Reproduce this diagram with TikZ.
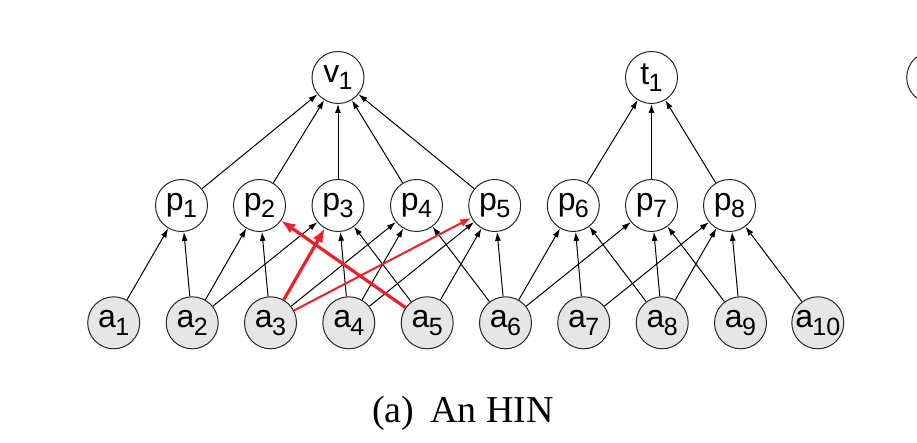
\documentclass[tikz,border=0pt]{standalone}
\usepackage{fontspec}
\setmainfont{Liberation Serif}
\newfontfamily\nodefont{Liberation Sans}
\usetikzlibrary{arrows.meta}
\definecolor{hred}{RGB}{236,32,40}
\definecolor{afill}{RGB}{230,230,230}
\newcommand{\lbl}[2]{{\nodefont\fontsize{16}{16}\selectfont #1\kern-0.3pt\raisebox{-3.8pt}{\fontsize{12.5}{12.5}\selectfont #2}}}
\begin{document}
\begin{tikzpicture}[x=0.5pt,y=-0.5pt,
  vert/.style={circle,draw=black!85,line width=0.5pt,minimum size=26pt,inner sep=0pt},
  anode/.style={vert,fill=afill},
  edge/.style={line width=0.5pt,-{Latex[length=4.5pt,width=3pt]}},
  redthick/.style={hred,line width=1.6pt,-{Latex[length=7pt,width=5.5pt]}},
  redthin/.style={hred,line width=1pt,-{Latex[length=5.5pt,width=4pt]}}]
\useasboundingbox (0,0) rectangle (917,443);
\clip (0,0) rectangle (917,443);
% top
\node[vert] (v1) at (338,77.5) {\lbl{v}{1}};
\node[vert] (t1) at (651.5,77.5) {\lbl{t}{1}};
\node[vert] (x1) at (932.7,77.5) {};
% papers
\node[vert] (p1) at (181.5,205.5) {\lbl{p}{1}};
\node[vert] (p2) at (259.5,205.5) {\lbl{p}{2}};
\node[vert] (p3) at (338,205.5) {\lbl{p}{3}};
\node[vert] (p4) at (416.5,205.5) {\lbl{p}{4}};
\node[vert] (p5) at (494.7,205.5) {\lbl{p}{5}};
\node[vert] (p6) at (573.3,205.5) {\lbl{p}{6}};
\node[vert] (p7) at (651.5,205.5) {\lbl{p}{7}};
\node[vert] (p8) at (729.5,205.5) {\lbl{p}{8}};
% authors
\node[anode] (a1) at (113.7,322.8) {\lbl{a}{1}};
\node[anode] (a2) at (192.2,322.8) {\lbl{a}{2}};
\node[anode] (a3) at (270.5,322.8) {\lbl{a}{3}};
\node[anode] (a4) at (348.8,322.8) {\lbl{a}{4}};
\node[anode] (a5) at (427.2,322.8) {\lbl{a}{5}};
\node[anode] (a6) at (505.5,322.8) {\lbl{a}{6}};
\node[anode] (a7) at (583.7,322.8) {\lbl{a}{7}};
\node[anode] (a8) at (662.2,322.8) {\lbl{a}{8}};
\node[anode] (a9) at (740.5,322.8) {\lbl{a}{9}};
\node[anode] (a10) at (817.8,322.8) {\lbl{a}{10}};
% paper -> venue/term
\foreach \p in {p1,p2,p3,p4,p5} \draw[edge] (\p) -- (v1);
\foreach \p in {p6,p7,p8} \draw[edge] (\p) -- (t1);
% author -> paper
\draw[edge] (a1) -- (p1);
\draw[edge] (a2) -- (p1);
\draw[edge] (a2) -- (p2);
\draw[edge] (a2) -- (p3);
\draw[edge] (a3) -- (p2);
\draw[edge] (a3) -- (p4);
\draw[edge] (a4) -- (p3);
\draw[edge] (a4) -- (p4);
\draw[edge] (a4) -- (p5);
\draw[edge] (a5) -- (p3);
\draw[edge] (a5) -- (p5);
\draw[edge] (a6) -- (p4);
\draw[edge] (a6) -- (p5);
\draw[edge] (a6) -- (p6);
\draw[edge] (a6) -- (p7);
\draw[edge] (a7) -- (p6);
\draw[edge] (a7) -- (p8);
\draw[edge] (a8) -- (p6);
\draw[edge] (a8) -- (p7);
\draw[edge] (a8) -- (p8);
\draw[edge] (a9) -- (p7);
\draw[edge] (a9) -- (p8);
\draw[edge] (a10) -- (p8);
% highlighted
\draw[redthick] (a3) -- (p3);
\draw[redthick] (a5) -- (p2);
\draw[redthin] (a3) -- (p5);
% caption
\node[anchor=base,font=\fontsize{19}{19}\selectfont] (cap) at (463,423) {(a)\hspace{8pt}An HIN};
\end{tikzpicture}
\end{document}
